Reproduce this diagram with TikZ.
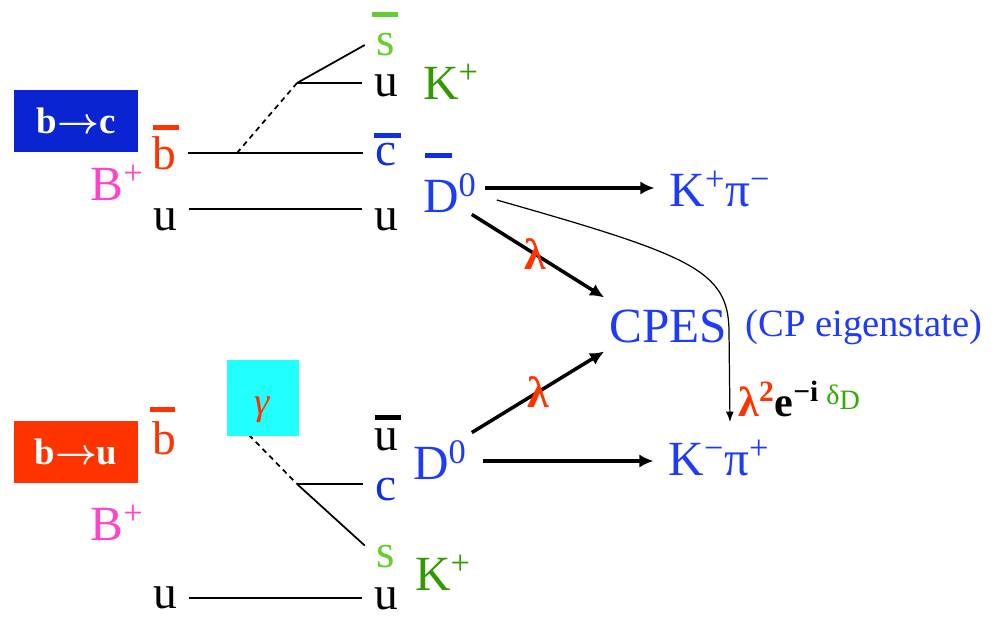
\documentclass[tikz,border=0pt]{standalone}
\usepackage{fontspec}
\setmainfont{Liberation Serif}
\usepackage{xcolor}
\usetikzlibrary{arrows.meta,calc}
\definecolor{boxblue}{HTML}{0A24D2}
\definecolor{qblue}{HTML}{1030E0}
\definecolor{textblue}{HTML}{1E3CF8}
\definecolor{hred}{HTML}{FF3300}
\definecolor{bpink}{HTML}{FF44CC}
\definecolor{lgreen}{HTML}{66CC33}
\definecolor{kgreen}{HTML}{339900}
\definecolor{dgreen}{HTML}{33AA00}
\definecolor{gcyan}{HTML}{22FFFF}
\tikzset{
  quark/.style={inner sep=0pt,outer xsep=0.24cm,outer ysep=0pt,font=\fontsize{27}{30}\selectfont},
  meson/.style={inner sep=0pt,outer sep=0pt,text=textblue,font=\fontsize{28}{32}\selectfont},
  note/.style={inner sep=0pt,text=textblue,font=\fontsize{22}{26}\selectfont},
  decaybox/.style={rectangle,minimum width=2.48cm,minimum height=1.24cm,inner sep=0pt,text=white,font=\fontsize{21}{24}\selectfont\bfseries},
  lam/.style={inner sep=0pt,text=hred,font=\fontsize{25}{28}\selectfont\bfseries},
  qline/.style={line width=1pt},
  qdash/.style={line width=1pt,dash pattern=on 3pt off 2.5pt},
  qbar/.style={line width=0.1cm},
  arrow/.style={-{Latex[length=8pt,width=7.5pt]},line width=2pt},
  thinarrow/.style={-{Latex[length=6pt,width=4.5pt]},line width=0.7pt}
}
\begin{document}
\begin{tikzpicture}[x=0.02cm,y=-0.02cm]
  \useasboundingbox (0,0) rectangle (995,618);
  % upper diagram: b -> c
  \node[decaybox,fill=boxblue] (bc) at (76,121) {b{\boldmath$\rightarrow$}c};
  \node[quark,text=hred] (bA) at (164,153) {b};
  \node[meson,text=bpink] (BpA) at (117,183) {B\textsuperscript{+}};
  \node[quark] (uA) at (165,220) {u};
  \node[quark,text=lgreen] (sA) at (386,45) {s};
  \node[quark] (uA1) at (386,86) {u};
  \node[quark,text=qblue] (cA) at (386,155) {c};
  \node[quark] (uA2) at (386,220) {u};
  \node[meson,text=kgreen] (KA) at (451,82) {K\textsuperscript{+}};
  \node[meson] (dA) at (450,193) {D\textsuperscript{0}};
  \coordinate (vA1) at (237,153);
  \coordinate (vA2) at (297,83);
  \draw[qline] (bA.east) -- (bA.east -| cA.west);
  \draw[qline] (uA.north east) -- (uA.north east -| uA2.north west);
  \draw[qdash] (vA1) -- (vA2);
  \draw[qline] (vA2) -- (vA2 -| uA1.west);
  \draw[qline] (vA2) -- (sA.west);
  \draw[qbar,lgreen] (372,15) -- (398,15);
  \draw[qbar,hred] (153,128) -- (179,128);
  \draw[qbar,qblue] (374,136) -- (401,136);
  \draw[qbar,qblue] (425,156) -- (452,156);

  % D decays
  \node[meson] (kpA) at (720,189) {K\textsuperscript{+}π\textsuperscript{−}};
  \node[meson] (cpes) at (668,326) {CPES};
  \node[note] (cpn) at (864,327) {(CP eigenstate)};
  \node[meson] (dB) at (440,460) {D\textsuperscript{0}};
  \node[meson] (kpB) at (719,458) {K\textsuperscript{−}π\textsuperscript{+}};
  \draw[arrow] ($(dA.east)+(8,-5)$) -- ($(kpA.west)+(-15,-1)$);
  \draw[arrow] ($(dB.east)+(16,1)$) -- ($(kpB.west)+(-15,3)$);
  \draw[arrow] ($(dA.south east)+(-5,2)$) -- node[lam,pos=0.48] (lamA) {λ} ($(cpes.north west)+(-5,-12)$);
  \draw[arrow] ($(dB.north east)+(5,-8)$) -- node[lam,pos=0.5] (lamB) {λ} ($(cpes.south west)+(-5,9)$);
  \draw[thinarrow] ($(dA.east)+(20,7)$) .. controls (690,255) and (728,270) .. (729,330) -- ($(kpB.north)+(11,-18)$);
  \node[anchor=base west,inner sep=0pt,font=\fontsize{24}{28}\selectfont\bfseries] (phase) at (738,417)
    {{\color{hred}λ\textsuperscript{2}}e\textsuperscript{−i}\,{\color{dgreen}\mdseries\fontsize{16}{16}\selectfont\raisebox{7pt}{δ\raisebox{-3pt}{D}}}};

  % lower diagram: b -> u
  \node[decaybox,fill=hred] (bu) at (76,452) {b{\boldmath$\rightarrow$}u};
  \node[quark,text=hred] (bB) at (164,438) {b};
  \node[meson,text=bpink] (BpB) at (117,523) {B\textsuperscript{+}};
  \node[quark] (uB) at (165,598) {u};
  \node[quark] (uB1) at (386,440) {u};
  \node[quark,text=qblue] (cB) at (386,490) {c};
  \node[quark,text=lgreen] (sB) at (386,557) {s};
  \node[quark] (uB2) at (386,599) {u};
  \node[meson,text=kgreen] (KB) at (443,573) {K\textsuperscript{+}};
  \coordinate (vB1) at (249,435);
  \coordinate (vB2) at (297,484);
  \draw[qline] ($(bB.east)+(0,-3)$) -- ($(bB.east)+(0,-3)$ -| uB1.west);
  \draw[qline] (uB.east) -- (uB.east -| uB2.west);
  \draw[qdash] (vB1) -- (vB2);
  \draw[qline] (vB2) -- (vB2 -| cB.west);
  \draw[qline] (vB2) -- (sB.north west);
  \node[fill=gcyan,minimum width=1.44cm,minimum height=1.52cm,inner sep=0pt] (gbox) at (263,398) {};
  \node[inner sep=0pt,text=hred,font=\fontsize{22}{26}\selectfont\itshape] (gam) at (262,410) {γ};
  \draw[qbar,hred] (150,410) -- (175,410);
  \draw[qbar] (375,418) -- (401,418);
\end{tikzpicture}
\end{document}
